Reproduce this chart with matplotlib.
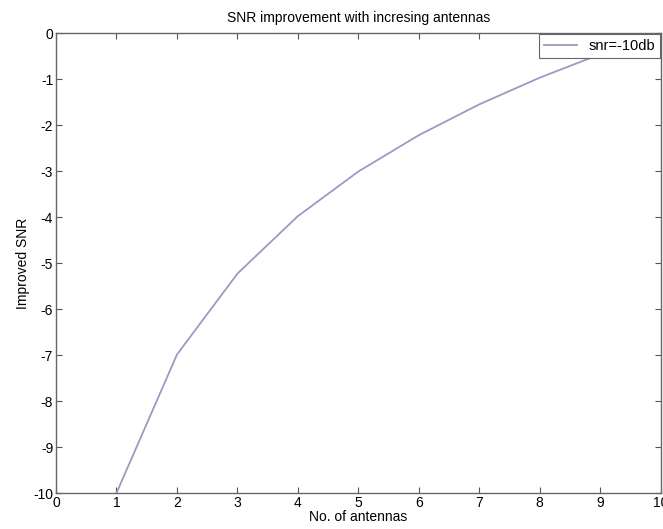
import matplotlib
matplotlib.use("Agg")
import matplotlib.pyplot as plt

plt.rcParams['font.family'] = ['Liberation Sans', 'DejaVu Sans']
plt.rcParams['axes.unicode_minus'] = False

antennas = [1, 2, 3, 4, 5, 6, 7, 8, 9, 10]
snr = [-10.0, -6.99, -5.23, -3.98, -3.01, -2.22, -1.55, -0.97, -0.46, 0.0]

fig = plt.figure(figsize=(6.63, 5.29), dpi=100)
ax = fig.add_axes([0.0845, 0.068, 0.912, 0.8695])

ax.plot(antennas, snr, color='#9a9ac4', linewidth=1.3, label='snr=-10db')

ax.set_xlim(0, 10)
ax.set_ylim(-10, 0)
ax.set_xticks(range(0, 11))
ax.set_yticks(range(-10, 1))
ax.tick_params(direction='in', top=True, right=True, labelsize=10, length=4,
               color='#555555', pad=2)
for s in ax.spines.values():
    s.set_color('#666666')
    s.set_linewidth(1.0)

ax.set_title('SNR improvement with incresing antennas', fontsize=10, pad=8)
ax.set_xlabel('No. of antennas', fontsize=10, labelpad=0)
ax.set_ylabel('Improved SNR', fontsize=10, labelpad=2)

leg = ax.legend(loc='upper right', fontsize=10.5, fancybox=False, framealpha=1,
                edgecolor='#666666', handlelength=2.2, borderpad=0.35,
                borderaxespad=0.05, handletextpad=0.8)
leg.get_frame().set_linewidth(0.8)

fig.savefig('out.png', dpi=100)
